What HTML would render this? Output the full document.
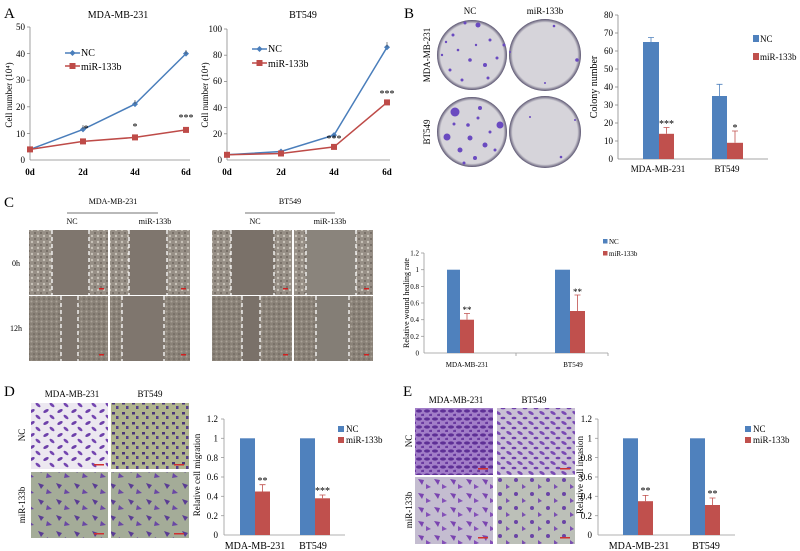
<!DOCTYPE html>
<html><head><meta charset="utf-8"><style>
html,body{margin:0;padding:0;background:#fff;}
svg{display:block;font-family:"Liberation Serif",serif;}
</style></head><body>
<svg width="800" height="551" viewBox="0 0 800 551" xmlns="http://www.w3.org/2000/svg">
<defs>
<pattern id="pSparse" width="14" height="12" patternUnits="userSpaceOnUse">
<rect width="14" height="12" fill="#ece8f0"/>
<ellipse cx="4" cy="3" rx="3" ry="1.5" fill="#6d40aa" transform="rotate(-30 4 3)"/>
<ellipse cx="10" cy="9" rx="3" ry="1.4" fill="#7446b0" transform="rotate(40 10 9)"/>
</pattern>
<pattern id="pGreen" width="10" height="10" patternUnits="userSpaceOnUse">
<rect width="10" height="10" fill="#b0b48e"/>
<rect x="2" y="2" width="3" height="2.5" fill="#4a3578"/>
<rect x="6" y="6" width="2.5" height="3" fill="#55408a"/>
</pattern>
<pattern id="pGreenBig" width="18" height="16" patternUnits="userSpaceOnUse">
<rect width="18" height="16" fill="#a4ac98"/>
<path d="M2 3 l6 2 l-3 4z" fill="#5a3c94"/>
<path d="M11 9 l5 4 l-6 1z" fill="#6a48a4"/>
</pattern>
<pattern id="pDense" width="8" height="8" patternUnits="userSpaceOnUse">
<rect width="8" height="8" fill="#a27ec8"/>
<ellipse cx="3" cy="3" rx="3" ry="1.6" fill="#5e2f96"/>
<ellipse cx="7" cy="7" rx="2" ry="1.3" fill="#6a3aa0"/>
</pattern>
<pattern id="pMed" width="11" height="10" patternUnits="userSpaceOnUse">
<rect width="11" height="10" fill="#c9c0d4"/>
<ellipse cx="3" cy="3" rx="3" ry="1.5" fill="#7a4ab4" transform="rotate(30 3 3)"/>
<ellipse cx="8" cy="8" rx="2.4" ry="1.3" fill="#7040ac"/>
</pattern>
<pattern id="pPale" width="16" height="14" patternUnits="userSpaceOnUse">
<rect width="16" height="14" fill="#c4bdd0"/>
<path d="M2 3 l6 1 l-2 5z" fill="#7a44b0"/>
<path d="M10 8 l5 3 l-5 2z" fill="#8450b8"/>
</pattern>
<pattern id="pSparseG" width="16" height="14" patternUnits="userSpaceOnUse">
<rect width="16" height="14" fill="#bcc0b8"/>
<circle cx="4" cy="4" r="2" fill="#6a44a6"/>
<path d="M10 8 l4 3 l-4 2z" fill="#7a50b0"/>
</pattern>
<pattern id="pWound" width="6" height="6" patternUnits="userSpaceOnUse">
<rect width="6" height="6" fill="#978f86"/>
<circle cx="2" cy="2" r="1.2" fill="#c8c2b8"/>
<circle cx="5" cy="5" r="1" fill="#6e665e"/>
</pattern>
<pattern id="pWound2" width="5" height="5" patternUnits="userSpaceOnUse">
<rect width="5" height="5" fill="#8a8278"/>
<circle cx="1.5" cy="1.5" r="1" fill="#aaa298"/>
<circle cx="4" cy="4" r="0.8" fill="#665e56"/>
</pattern>
<radialGradient id="plate" cx="50%" cy="50%" r="50%">
<stop offset="0.9" stop-color="#d6d4da"/><stop offset="1" stop-color="#5a5470"/>
</radialGradient>
</defs>

<!-- ============ A ============ -->
<text x="4" y="18" font-size="15">A</text>
<text x="118" y="18" font-size="10" text-anchor="middle">MDA-MB-231</text>
<g stroke="#888" stroke-width="0.8">
<line x1="30" y1="27" x2="30" y2="160"/><line x1="30" y1="160" x2="190" y2="160"/>
<line x1="27" y1="27" x2="30" y2="27"/><line x1="27" y1="53.6" x2="30" y2="53.6"/><line x1="27" y1="80.2" x2="30" y2="80.2"/><line x1="27" y1="106.8" x2="30" y2="106.8"/><line x1="27" y1="133.4" x2="30" y2="133.4"/>
</g>
<g font-size="9" text-anchor="end">
<text x="25" y="30">50</text><text x="25" y="57">40</text><text x="25" y="83">30</text><text x="25" y="110">20</text><text x="25" y="137">10</text><text x="25" y="163">0</text>
</g>
<g font-size="9" font-weight="bold" text-anchor="middle">
<text x="30" y="175">0d</text><text x="83" y="175">2d</text><text x="135" y="175">4d</text><text x="186" y="175">6d</text>
</g>
<text transform="translate(12,95) rotate(-90)" font-size="9" text-anchor="middle">Cell number (10⁴)</text>
<polyline points="30,149.4 83,129.4 135,104.1 186,53.6" fill="none" stroke="#4a7ebb" stroke-width="1.5"/>
<polyline points="30,149.4 83,141.4 135,137.4 186,129.9" fill="none" stroke="#be4b48" stroke-width="1.5"/>
<g fill="#4a7ebb"><path d="M30 146.4l3 3-3 3-3-3z"/><path d="M83 126.4l3 3-3 3-3-3z"/><path d="M135 101.1l3 3-3 3-3-3z"/><path d="M186 50.6l3 3-3 3-3-3z"/></g>
<g fill="#be4b48"><rect x="27" y="146.4" width="6" height="6"/><rect x="80" y="138.4" width="6" height="6"/><rect x="132" y="134.4" width="6" height="6"/><rect x="183" y="126.9" width="6" height="6"/></g>
<g stroke="#555" stroke-width="0.7"><line x1="83" y1="125" x2="83" y2="129"/><line x1="135" y1="100" x2="135" y2="104"/><line x1="186" y1="50" x2="186" y2="54"/></g>
<g font-size="10" text-anchor="middle"><text x="86" y="132">*</text><text x="135" y="130">*</text><text x="186" y="121">***</text></g>
<line x1="65" y1="53" x2="80" y2="53" stroke="#4a7ebb" stroke-width="1.5"/><path d="M72.5 50l3 3-3 3-3-3z" fill="#4a7ebb"/>
<text x="81" y="56" font-size="10">NC</text>
<line x1="65" y1="66" x2="80" y2="66" stroke="#be4b48" stroke-width="1.5"/><rect x="69.5" y="63" width="6" height="6" fill="#be4b48"/>
<text x="81" y="70" font-size="10">miR-133b</text>

<text x="303" y="18" font-size="10" text-anchor="middle">BT549</text>
<g stroke="#888" stroke-width="0.8">
<line x1="227" y1="29" x2="227" y2="160"/><line x1="227" y1="160" x2="390" y2="160"/>
<line x1="224" y1="29" x2="227" y2="29"/><line x1="224" y1="55.2" x2="227" y2="55.2"/><line x1="224" y1="81.4" x2="227" y2="81.4"/><line x1="224" y1="107.6" x2="227" y2="107.6"/><line x1="224" y1="133.8" x2="227" y2="133.8"/>
</g>
<g font-size="9" text-anchor="end">
<text x="222" y="32">100</text><text x="222" y="58">80</text><text x="222" y="84">60</text><text x="222" y="111">40</text><text x="222" y="137">20</text><text x="222" y="163">0</text>
</g>
<g font-size="9" font-weight="bold" text-anchor="middle">
<text x="227" y="175">0d</text><text x="281" y="175">2d</text><text x="334" y="175">4d</text><text x="387" y="175">6d</text>
</g>
<text transform="translate(208,95) rotate(-90)" font-size="9" text-anchor="middle">Cell number (10⁴)</text>
<polyline points="227,154.8 281,151.5 334,135.1 387,47.3" fill="none" stroke="#4a7ebb" stroke-width="1.5"/>
<polyline points="227,154.8 281,153.5 334,146.9 387,102.4" fill="none" stroke="#be4b48" stroke-width="1.5"/>
<g fill="#4a7ebb"><path d="M227 151.8l3 3-3 3-3-3z"/><path d="M281 148.5l3 3-3 3-3-3z"/><path d="M334 132.1l3 3-3 3-3-3z"/><path d="M387 44.3l3 3-3 3-3-3z"/></g>
<g fill="#be4b48"><rect x="224" y="151.8" width="6" height="6"/><rect x="278" y="150.5" width="6" height="6"/><rect x="331" y="143.9" width="6" height="6"/><rect x="384" y="99.4" width="6" height="6"/></g>
<line x1="387" y1="42" x2="387" y2="47" stroke="#555" stroke-width="0.7"/>
<g font-size="10" text-anchor="middle"><text x="334" y="142">***</text><text x="387" y="97">***</text></g>
<line x1="252" y1="49" x2="267" y2="49" stroke="#4a7ebb" stroke-width="1.5"/><path d="M259.5 46l3 3-3 3-3-3z" fill="#4a7ebb"/>
<text x="268" y="52" font-size="10">NC</text>
<line x1="252" y1="63" x2="267" y2="63" stroke="#be4b48" stroke-width="1.5"/><rect x="256.5" y="60" width="6" height="6" fill="#be4b48"/>
<text x="268" y="67" font-size="10">miR-133b</text>

<!-- ============ B ============ -->
<text x="404" y="18" font-size="15">B</text>
<text x="470" y="14" font-size="9" text-anchor="middle">NC</text>
<text x="545" y="14" font-size="9" text-anchor="middle">miR-133b</text>
<text transform="translate(430,55) rotate(-90)" font-size="9" text-anchor="middle">MDA-MB-231</text>
<text transform="translate(430,132) rotate(-90)" font-size="9" text-anchor="middle">BT549</text>
<circle cx="472" cy="55" r="35" fill="url(#plate)"/>
<circle cx="545" cy="55" r="36" fill="url(#plate)"/>
<circle cx="472" cy="132" r="35" fill="url(#plate)"/>
<circle cx="545" cy="132" r="36" fill="url(#plate)"/>
<g fill="#6a4ac0">
<circle cx="465" cy="23" r="1.5"/><circle cx="478" cy="25" r="2.5"/><circle cx="453" cy="35" r="1.5"/><circle cx="490" cy="40" r="1.5"/><circle cx="458" cy="50" r="1.3"/><circle cx="470" cy="60" r="1.8"/><circle cx="485" cy="65" r="2"/><circle cx="450" cy="70" r="1.5"/><circle cx="462" cy="80" r="1.5"/><circle cx="497" cy="58" r="1.5"/><circle cx="476" cy="45" r="1.2"/><circle cx="442" cy="55" r="1.2"/><circle cx="488" cy="78" r="1.5"/><circle cx="504" cy="45" r="1.5"/><circle cx="446" cy="42" r="1.2"/>
<circle cx="554" cy="26" r="1.3"/><circle cx="577" cy="60" r="1.8"/><circle cx="545" cy="83" r="1"/><circle cx="510" cy="52" r="1"/>
<circle cx="455" cy="112" r="4.5"/><circle cx="447" cy="137" r="3.5"/><circle cx="480" cy="108" r="2"/><circle cx="500" cy="125" r="3.5"/><circle cx="470" cy="138" r="2.5"/><circle cx="460" cy="150" r="2.5"/><circle cx="485" cy="145" r="2.5"/><circle cx="468" cy="125" r="1.8"/><circle cx="490" cy="132" r="1.5"/><circle cx="475" cy="158" r="2"/><circle cx="454" cy="124" r="1.5"/><circle cx="495" cy="150" r="1.5"/><circle cx="478" cy="118" r="1.5"/><circle cx="464" cy="163" r="1.5"/>
<circle cx="561" cy="157" r="1.3"/><circle cx="530" cy="117" r="1"/><circle cx="575" cy="120" r="1"/>
</g>
<g stroke="#888" stroke-width="0.8">
<line x1="618" y1="15" x2="618" y2="159"/><line x1="618" y1="159" x2="768" y2="159"/>
<line x1="615" y1="15" x2="618" y2="15"/><line x1="615" y1="33" x2="618" y2="33"/><line x1="615" y1="51" x2="618" y2="51"/><line x1="615" y1="69" x2="618" y2="69"/><line x1="615" y1="87" x2="618" y2="87"/><line x1="615" y1="105" x2="618" y2="105"/><line x1="615" y1="123" x2="618" y2="123"/><line x1="615" y1="141" x2="618" y2="141"/>
</g>
<g font-size="9" text-anchor="end">
<text x="613" y="18">80</text><text x="613" y="36">70</text><text x="613" y="54">60</text><text x="613" y="72">50</text><text x="613" y="90">40</text><text x="613" y="108">30</text><text x="613" y="126">20</text><text x="613" y="144">10</text><text x="613" y="162">0</text>
</g>
<text transform="translate(597,87) rotate(-90)" font-size="10" text-anchor="middle">Colony number</text>
<rect x="643" y="42" width="16" height="117" fill="#4f81bd"/>
<rect x="659" y="133.8" width="15" height="25.2" fill="#c0504d"/>
<rect x="712" y="96" width="15" height="63" fill="#4f81bd"/>
<rect x="727" y="142.8" width="16" height="16.2" fill="#c0504d"/>
<g stroke-width="0.8"><path d="M651 42V37.5M648 37.5h6" stroke="#4f81bd"/><path d="M666.5 133.8V127.5M663.5 127.5h6" stroke="#c0504d"/><path d="M719.5 96V84.3M716.5 84.3h6" stroke="#4f81bd"/><path d="M735 142.8V131M732 131h6" stroke="#c0504d"/></g>
<g font-size="10" text-anchor="middle"><text x="666.5" y="127">***</text><text x="735" y="131">*</text></g>
<g font-size="9" text-anchor="middle"><text x="658" y="172">MDA-MB-231</text><text x="727" y="172">BT549</text></g>
<rect x="753" y="35" width="6" height="7" fill="#4f81bd"/><text x="760" y="42" font-size="9">NC</text>
<rect x="753" y="53" width="6" height="7" fill="#c0504d"/><text x="760" y="60" font-size="9">miR-133b</text>

<!-- ============ C ============ -->
<text x="4" y="207" font-size="15">C</text>
<text x="113" y="204" font-size="8" text-anchor="middle">MDA-MB-231</text>
<line x1="67" y1="213" x2="158" y2="213" stroke="#444" stroke-width="0.8"/>
<text x="72" y="224" font-size="8" text-anchor="middle">NC</text>
<text x="155" y="224" font-size="8" text-anchor="middle">miR-133b</text>
<text x="290" y="204" font-size="8" text-anchor="middle">BT549</text>
<line x1="245" y1="213" x2="335" y2="213" stroke="#444" stroke-width="0.8"/>
<text x="255" y="224" font-size="8" text-anchor="middle">NC</text>
<text x="330" y="224" font-size="8" text-anchor="middle">miR-133b</text>
<text x="12" y="266" font-size="8">0h</text>
<text x="10" y="331" font-size="8">12h</text>
<!-- wound images -->
<g>
<rect x="29" y="230" width="79" height="65" fill="url(#pWound)"/><rect x="52" y="230" width="37" height="65" fill="#7f766e"/>
<rect x="110" y="230" width="80" height="65" fill="url(#pWound)"/><rect x="129" y="230" width="38" height="65" fill="#7f766e"/>
<rect x="212" y="230" width="80" height="65" fill="url(#pWound)"/><rect x="231" y="230" width="43" height="65" fill="#7a7169"/>
<rect x="294" y="230" width="79" height="65" fill="url(#pWound)"/><rect x="306" y="230" width="50" height="65" fill="#8a847c"/>
<rect x="29" y="296" width="79" height="65" fill="url(#pWound2)"/><rect x="61" y="296" width="17" height="65" fill="#7f766e"/>
<rect x="110" y="296" width="80" height="65" fill="url(#pWound2)"/><rect x="122" y="296" width="42" height="65" fill="#7f766e"/>
<rect x="212" y="296" width="80" height="65" fill="url(#pWound2)"/><rect x="242" y="296" width="18" height="65" fill="#7a7169"/>
<rect x="294" y="296" width="79" height="65" fill="url(#pWound2)"/><rect x="316" y="296" width="33" height="65" fill="#847e76"/>
</g>
<g stroke="#fff" stroke-width="1.3" stroke-dasharray="4,3">
<line x1="52" y1="230" x2="52" y2="295"/><line x1="89" y1="230" x2="89" y2="295"/>
<line x1="129" y1="230" x2="129" y2="295"/><line x1="167" y1="230" x2="167" y2="295"/>
<line x1="231" y1="230" x2="231" y2="295"/><line x1="274" y1="230" x2="274" y2="295"/>
<line x1="306" y1="230" x2="306" y2="295"/><line x1="356" y1="230" x2="356" y2="295"/>
<line x1="61" y1="296" x2="61" y2="361"/><line x1="78" y1="296" x2="78" y2="361"/>
<line x1="122" y1="296" x2="122" y2="361"/><line x1="164" y1="296" x2="164" y2="361"/>
<line x1="242" y1="296" x2="242" y2="361"/><line x1="260" y1="296" x2="260" y2="361"/>
<line x1="316" y1="296" x2="316" y2="361"/><line x1="349" y1="296" x2="349" y2="361"/>
</g>
<g fill="#d02020"><rect x="99" y="288" width="5" height="1.5"/><rect x="181" y="288" width="5" height="1.5"/><rect x="283" y="288" width="5" height="1.5"/><rect x="364" y="288" width="5" height="1.5"/><rect x="99" y="354" width="5" height="1.5"/><rect x="181" y="354" width="5" height="1.5"/><rect x="283" y="354" width="5" height="1.5"/><rect x="364" y="354" width="5" height="1.5"/></g>
<!-- C chart -->
<g stroke="#999" stroke-width="0.8">
<line x1="424" y1="253" x2="424" y2="353"/><line x1="424" y1="353" x2="608" y2="353"/>
<line x1="421" y1="253" x2="424" y2="253"/><line x1="421" y1="269.7" x2="424" y2="269.7"/><line x1="421" y1="286.4" x2="424" y2="286.4"/><line x1="421" y1="303" x2="424" y2="303"/><line x1="421" y1="319.7" x2="424" y2="319.7"/><line x1="421" y1="336.3" x2="424" y2="336.3"/>
<line x1="516" y1="353" x2="516" y2="356"/><line x1="608" y1="353" x2="608" y2="356"/>
</g>
<g font-size="7" text-anchor="end">
<text x="419" y="255.5">1.2</text><text x="419" y="272">1</text><text x="419" y="289">0.8</text><text x="419" y="305.5">0.6</text><text x="419" y="322">0.4</text><text x="419" y="339">0.2</text><text x="419" y="355.5">0</text>
</g>
<text transform="translate(409,303) rotate(-90)" font-size="8" text-anchor="middle">Relative wound healing  rate</text>
<rect x="447" y="269.7" width="13" height="83.3" fill="#4f81bd"/>
<rect x="460" y="319.7" width="14" height="33.3" fill="#c0504d"/>
<rect x="555" y="269.7" width="15" height="83.3" fill="#4f81bd"/>
<rect x="570" y="311" width="15" height="42" fill="#c0504d"/>
<g stroke="#c0504d" stroke-width="0.8"><path d="M467 319.7V313.5M464 313.5h6"/><path d="M577.5 311V295M574.5 295h6"/></g>
<g font-size="9" text-anchor="middle"><text x="467" y="313">**</text><text x="577.5" y="295">**</text></g>
<g font-size="7" text-anchor="middle"><text x="467" y="367">MDA-MB-231</text><text x="573" y="367">BT549</text></g>
<rect x="603" y="239" width="4.5" height="4.5" fill="#4f81bd"/><text x="609" y="244" font-size="7">NC</text>
<rect x="603" y="251" width="4.5" height="4.5" fill="#c0504d"/><text x="609" y="256" font-size="7">miR-133b</text>

<!-- ============ D ============ -->
<text x="4" y="396" font-size="15">D</text>
<text x="72" y="397" font-size="9" text-anchor="middle">MDA-MB-231</text>
<text x="150" y="397" font-size="9" text-anchor="middle">BT549</text>
<text transform="translate(25,435) rotate(-90)" font-size="9" text-anchor="middle">NC</text>
<text transform="translate(25,505) rotate(-90)" font-size="9" text-anchor="middle">miR-133b</text>
<rect x="31" y="403" width="77" height="66" fill="url(#pSparse)"/>
<rect x="111" y="403" width="78" height="66" fill="url(#pGreen)"/>
<rect x="31" y="472" width="77" height="66" fill="url(#pGreenBig)"/>
<rect x="111" y="472" width="78" height="66" fill="url(#pGreenBig)"/>
<g fill="#d03030"><rect x="94" y="464" width="10" height="1.5"/><rect x="174" y="464" width="10" height="1.5"/><rect x="94" y="533" width="10" height="1.5"/><rect x="174" y="533" width="10" height="1.5"/></g>
<g stroke="#999" stroke-width="0.8">
<line x1="224" y1="419" x2="224" y2="535"/><line x1="224" y1="535" x2="345" y2="535"/>
<line x1="221" y1="419" x2="224" y2="419"/><line x1="221" y1="438.3" x2="224" y2="438.3"/><line x1="221" y1="457.6" x2="224" y2="457.6"/><line x1="221" y1="477" x2="224" y2="477"/><line x1="221" y1="496.3" x2="224" y2="496.3"/><line x1="221" y1="515.7" x2="224" y2="515.7"/>
</g>
<g font-size="9" text-anchor="end">
<text x="218" y="422">1.2</text><text x="218" y="441.5">1</text><text x="218" y="461">0.8</text><text x="218" y="480">0.6</text><text x="218" y="499.5">0.4</text><text x="218" y="519">0.2</text><text x="218" y="538">0</text>
</g>
<text transform="translate(200,475) rotate(-90)" font-size="9" text-anchor="middle">Relative  cell  migration</text>
<rect x="240" y="438.3" width="15" height="96.7" fill="#4f81bd"/>
<rect x="255" y="491.5" width="15" height="43.5" fill="#c0504d"/>
<rect x="300" y="438.3" width="15" height="96.7" fill="#4f81bd"/>
<rect x="315" y="498.3" width="15" height="36.7" fill="#c0504d"/>
<g stroke="#c0504d" stroke-width="0.8"><path d="M262.5 491.5V484.7M259.5 484.7h6"/><path d="M322.5 498.3V495M319.5 495h6"/></g>
<g font-size="10" text-anchor="middle"><text x="262.5" y="484">**</text><text x="322.5" y="494">***</text></g>
<g font-size="10" text-anchor="middle"><text x="255" y="549">MDA-MB-231</text><text x="313" y="549">BT549</text></g>
<rect x="338" y="426" width="6" height="6" fill="#4f81bd"/><text x="346" y="432" font-size="9">NC</text>
<rect x="338" y="437" width="6" height="6" fill="#c0504d"/><text x="346" y="443" font-size="9">miR-133b</text>

<!-- ============ E ============ -->
<text x="403" y="396" font-size="15">E</text>
<text x="456" y="403" font-size="9" text-anchor="middle">MDA-MB-231</text>
<text x="534" y="403" font-size="9" text-anchor="middle">BT549</text>
<text transform="translate(412,441) rotate(-90)" font-size="9" text-anchor="middle">NC</text>
<text transform="translate(412,510) rotate(-90)" font-size="9" text-anchor="middle">miR-133b</text>
<rect x="415" y="408" width="78" height="67" fill="url(#pDense)"/>
<rect x="497" y="408" width="78" height="67" fill="url(#pMed)"/>
<rect x="415" y="477" width="78" height="67" fill="url(#pPale)"/>
<rect x="497" y="477" width="78" height="67" fill="url(#pSparseG)"/>
<g fill="#d03030"><rect x="478" y="468" width="10" height="1.5"/><rect x="560" y="468" width="10" height="1.5"/><rect x="478" y="537" width="10" height="1.5"/><rect x="560" y="537" width="10" height="1.5"/></g>
<g stroke="#999" stroke-width="0.8">
<line x1="598" y1="419" x2="598" y2="535"/><line x1="598" y1="535" x2="735" y2="535"/>
<line x1="595" y1="419" x2="598" y2="419"/><line x1="595" y1="438.3" x2="598" y2="438.3"/><line x1="595" y1="457.6" x2="598" y2="457.6"/><line x1="595" y1="477" x2="598" y2="477"/><line x1="595" y1="496.3" x2="598" y2="496.3"/><line x1="595" y1="515.7" x2="598" y2="515.7"/>
</g>
<g font-size="9" text-anchor="end">
<text x="592" y="422">1.2</text><text x="592" y="441.5">1</text><text x="592" y="461">0.8</text><text x="592" y="480">0.6</text><text x="592" y="499.5">0.4</text><text x="592" y="519">0.2</text><text x="592" y="538">0</text>
</g>
<text transform="translate(583,475) rotate(-90)" font-size="9" text-anchor="middle">Relative  cell  invasion</text>
<rect x="623" y="438.3" width="15" height="96.7" fill="#4f81bd"/>
<rect x="638" y="501.2" width="15" height="33.8" fill="#c0504d"/>
<rect x="690" y="438.3" width="15" height="96.7" fill="#4f81bd"/>
<rect x="705" y="505" width="15" height="30" fill="#c0504d"/>
<g stroke="#c0504d" stroke-width="0.8"><path d="M645.5 501.2V495.4M642.5 495.4h6"/><path d="M712.5 505V498M709.5 498h6"/></g>
<g font-size="10" text-anchor="middle"><text x="645.5" y="494">**</text><text x="712.5" y="497">**</text></g>
<g font-size="10" text-anchor="middle"><text x="639" y="549">MDA-MB-231</text><text x="706" y="549">BT549</text></g>
<rect x="745" y="426" width="6" height="6" fill="#4f81bd"/><text x="753" y="432" font-size="9">NC</text>
<rect x="745" y="437" width="6" height="6" fill="#c0504d"/><text x="753" y="443" font-size="9">miR-133b</text>
</svg>
</body></html>
